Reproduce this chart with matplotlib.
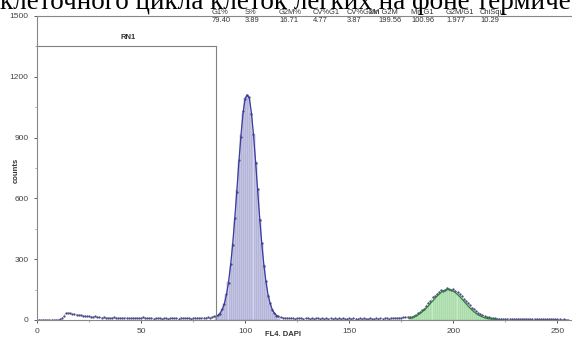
import matplotlib.pyplot as plt
from matplotlib.ticker import MultipleLocator

# raw histogram, counts per channel 0..255
raw_counts = [
    1, 1, 1, 1, 1, 1, 1, 1, 1, 1, 2, 3,
    8, 22, 34, 36, 33, 30, 28, 27, 25,
    24, 22, 21, 19, 18, 17, 16, 18, 14, 13,
    12, 14, 11, 12, 10, 11, 13, 9, 10, 11,
    9, 10, 12, 9, 8, 10, 9, 11, 8, 9,
    14, 9, 8, 10, 8, 7, 9, 8, 10, 7,
    8, 9, 7, 8, 10, 8, 9, 7, 12, 8,
    9, 8, 10, 7, 9, 11, 8, 10, 9, 12,
    11, 13, 12, 15, 18,
    # G1 peak, 86..116
    19, 25, 31, 55, 78, 128, 183, 275, 370, 505,
    632, 790, 905, 1030, 1088, 1112, 1098, 1015, 920, 776,
    645, 493, 380, 264, 190, 120, 84, 49, 36, 21, 18,
    # S phase, 117..178
    14, 12, 11, 9, 10, 8, 9, 7, 9, 8,
    10, 7, 8, 9, 6, 8, 7, 9, 8, 6,
    8, 7, 9, 6, 8, 7, 8, 6, 9, 7,
    8, 6, 7, 9, 6, 8, 7, 6, 8, 7,
    9, 6, 7, 8, 6, 7, 9, 7, 8, 6,
    8, 9, 7, 10, 8, 11, 9, 12, 10, 13,
    14, 15,
    # G2M peak, 179..221
    17, 16, 22, 27, 33, 40, 50, 56, 70, 86,
    95, 112, 118, 128, 137, 146, 144, 150, 158, 152,
    149, 153, 141, 136, 126, 118, 104, 95, 84, 72,
    61, 52, 44, 36, 29, 24, 19, 15, 13, 11,
    9, 8, 7,
    # 222..255
    6, 7, 5, 6, 5, 7, 6, 5, 4, 6,
    5, 4, 6, 5, 4, 5, 3, 5, 4, 3,
    4, 5, 3, 4, 3, 5, 4, 3, 4, 3,
    2, 3, 2, 2,
]
channels = list(range(len(raw_counts)))

# fitted G1 component, channels 86..116
g1_start = 86
g1_fit = [17, 23, 34, 52, 81, 124, 187, 270, 375, 500,
          639, 782, 914, 1023, 1094, 1110, 1094, 1023, 914, 782,
          639, 500, 375, 270, 187, 124, 81, 52, 34, 23, 17]
g1_ch = list(range(g1_start, g1_start + len(g1_fit)))

# fitted G2M component, channels 179..221
g2_start = 179
g2_fit = [8, 11, 15, 20, 25, 32, 40, 49, 59, 70,
          82, 93, 105, 116, 126, 135, 142, 147, 150, 150,
          147, 142, 135, 126, 116, 105, 93, 82, 70, 59,
          49, 40, 32, 25, 20, 15, 11, 8, 6, 5,
          4, 3, 3]
g2_ch = list(range(g2_start, g2_start + len(g2_fit)))

stat_names = ['G1%', 'S%', 'G2M%', 'CV%G1', 'CV%G2M', 'Mn G2M', 'Mn G1', 'G2M/G1', 'ChiSqu.']
stat_values = ['79.40', '3.89', '16.71', '4.77', '3.87', '199.56', '100.96', '1.977', '10.29']
stat_x = [212, 245, 279, 313, 347, 369, 411, 446, 480]
value_x = [212, 245, 279, 313, 347, 378, 411, 446, 480]

rn1_right = 86
rn1_level = 1352

W, H = 572, 338
fig = plt.figure(figsize=(W / 100, H / 100), dpi=100)
ax = fig.add_axes([37 / W, 1 - 320 / H, 1 - 37 / W, 304 / H])

ax.bar(g1_ch, g1_fit, width=1.0, facecolor='#d6d6ee', edgecolor='#8a8abd', linewidth=0.35)
ax.bar(g2_ch, g2_fit, width=1.0, facecolor='#c9ebc9', edgecolor='#86c886', linewidth=0.35)
ax.plot(channels, raw_counts, color='#6a6a9a', lw=0.5, ls=':')
ax.plot(channels, raw_counts, ls='none', marker='.', ms=1.2, color='#40407a')
ax.plot(g1_ch, g1_fit, color='#3c3ca0', lw=0.9)
ax.plot(g2_ch, g2_fit, color='#2f7f3a', lw=0.9)

# RN1 region marker
ax.plot([0, rn1_right], [rn1_level, rn1_level], color='#808080', lw=0.8)
ax.plot([rn1_right, rn1_right], [0, rn1_level], color='#808080', lw=0.8)
ax.text(rn1_right / 2 + 1, rn1_level + 25, 'RN1', fontsize=5.5, fontweight='bold',
        ha='center', va='bottom', family='Liberation Sans', color='#333333')

ax.set_xlim(0, 257)
ax.set_ylim(0, 1500)
ax.xaxis.set_major_locator(MultipleLocator(50))
ax.xaxis.set_minor_locator(MultipleLocator(25))
ax.yaxis.set_major_locator(MultipleLocator(300))
ax.yaxis.set_minor_locator(MultipleLocator(150))
ax.tick_params(labelsize=6, colors='#444444', length=2.5, width=0.6)
ax.tick_params(which='minor', length=1.5, width=0.5, colors='#888888')
for lab in ax.get_xticklabels() + ax.get_yticklabels():
    lab.set_family('Liberation Sans')
ax.spines['right'].set_visible(False)
for s in ['left', 'top', 'bottom']:
    ax.spines[s].set_color('#888888')
    ax.spines[s].set_linewidth(0.8)

fig.text(16 / W, 1 - 170 / H, 'counts', rotation=90, fontsize=5.5, fontweight='bold',
         ha='center', va='center', family='Liberation Sans', color='#333333')
fig.text(283 / W, 1 - 335 / H, 'FL4. DAPI', fontsize=5.5, fontweight='bold',
         ha='center', va='center', family='Liberation Sans', color='#333333')

for name, val, xn, xv in zip(stat_names, stat_values, stat_x, value_x):
    fig.text(xn / W, 1 - 13 / H, name, fontsize=5.4, ha='left', va='center',
             family='Liberation Sans', color='#333333')
    fig.text(xv / W, 1 - 21 / H, val, fontsize=5.4, ha='left', va='center',
             family='Liberation Sans', color='#333333')

# caption cut off at the top of the picture
fig.text(0, 1 - 9 / H, 'клеточного цикла клеток легких на фоне термического',
         fontsize=19.5, ha='left', va='baseline', family='Liberation Serif', color='black')

fig.savefig('out.png', dpi=100)
